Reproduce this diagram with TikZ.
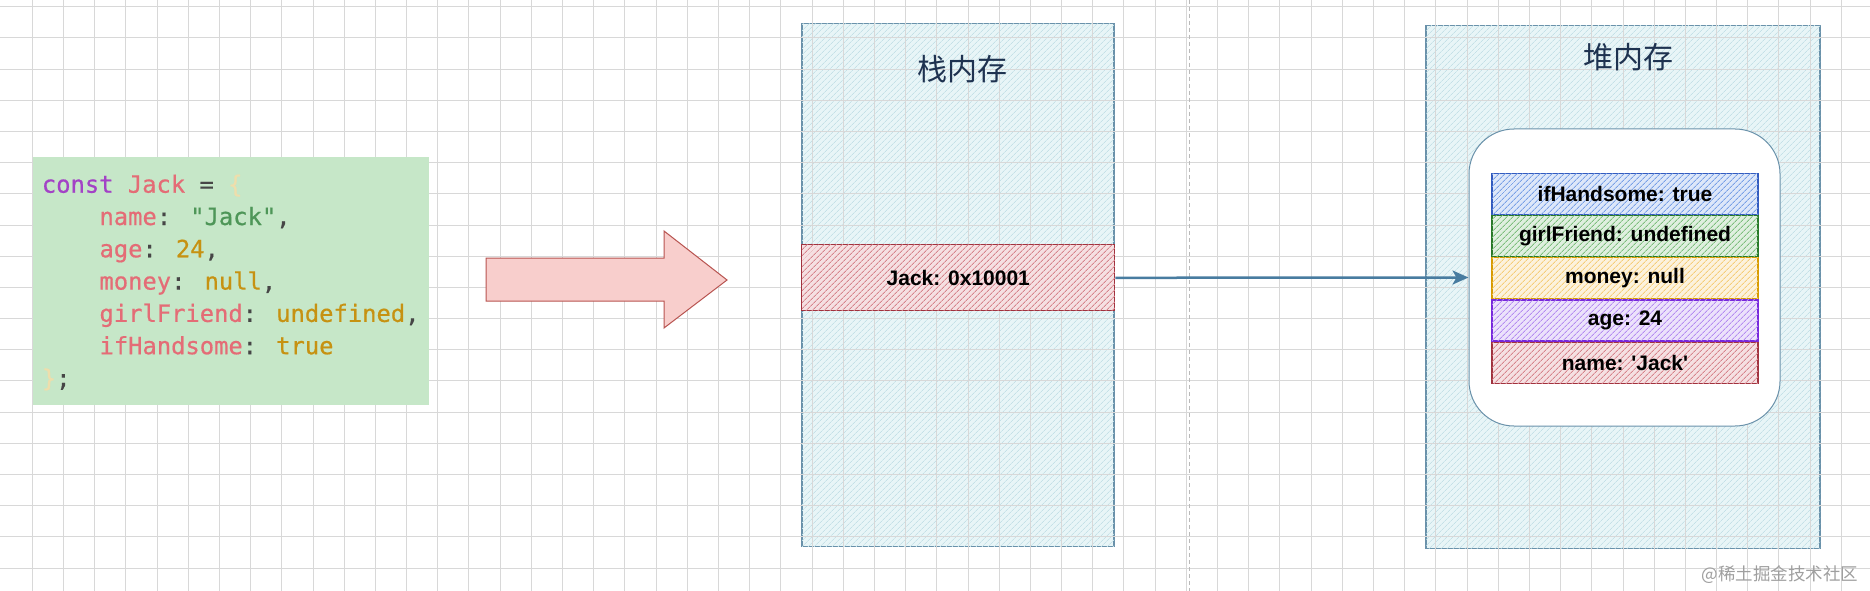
\documentclass[tikz,border=0pt]{standalone}
\usepackage{fontspec}
\newfontfamily\cjk{Noto Sans CJK SC}
\newfontfamily\labelfont{Liberation Sans}
\newfontfamily\codefont{DejaVu Sans Mono}[FakeBold=0.6]
\usetikzlibrary{positioning,patterns.meta,arrows.meta}

\definecolor{gridgray}{RGB}{216,216,216}
\definecolor{regionline}{RGB}{105,145,170}
\definecolor{regionfill}{RGB}{232,245,247}
\definecolor{regionhatch}{RGB}{196,224,231}
\definecolor{titleblue}{RGB}{30,50,80}
\definecolor{codebg}{RGB}{198,231,200}
\definecolor{codekw}{RGB}{163,66,198}
\definecolor{codekey}{RGB}{228,108,118}
\definecolor{codeval}{RGB}{198,146,18}
\definecolor{codestr}{RGB}{78,150,88}
\definecolor{codepun}{RGB}{70,70,70}
\definecolor{codebrace}{RGB}{238,222,172}
\definecolor{arrowfill}{RGB}{248,206,204}
\definecolor{arrowline}{RGB}{184,84,80}
\definecolor{linkblue}{RGB}{72,124,160}
\definecolor{redline}{RGB}{160,50,62}
\definecolor{redhatch}{RGB}{214,132,140}
\definecolor{blueline}{RGB}{50,90,190}
\definecolor{bluehatch}{RGB}{120,160,230}
\definecolor{greenline}{RGB}{40,120,40}
\definecolor{greenhatch}{RGB}{125,190,125}
\definecolor{yellowline}{RGB}{215,155,0}
\definecolor{yellowhatch}{RGB}{245,205,120}
\definecolor{purpleline}{RGB}{120,40,220}
\definecolor{purplehatch}{RGB}{180,140,240}

\newcommand{\cKey}[1]{\textcolor{codekey}{#1}}
\newcommand{\cVal}[1]{\textcolor{codeval}{#1}}
\newcommand{\cPun}[1]{\textcolor{codepun}{#1}}

\begin{document}
\begin{tikzpicture}[
    x=1pt, y=-1pt,
    region/.style={
        draw=regionline, line width=1.2pt,
        fill=regionfill,
        postaction={pattern={Lines[angle=45,distance=4pt,line width=0.7pt]}, pattern color=regionhatch}
    },
    regiontitle/.style={text=titleblue, font=\cjk\fontsize{30}{36}\selectfont},
    codeline/.style={anchor=base west, inner sep=0pt, font=\codefont\fontsize{23.8}{28}\selectfont},
    field/.style 2 args={
        draw=#1, line width=1.2pt,
        fill=#2!25,
        postaction={pattern={Lines[angle=45,distance=4pt,line width=1pt]}, pattern color=#2},
        minimum width=266pt, minimum height=41pt, inner sep=0pt,
        font=\labelfont\bfseries\fontsize{21}{25}\selectfont
    },
    link/.style={draw=linkblue, line width=2.5pt, -{Stealth[length=16pt,width=14pt,inset=4pt]}}
]
\useasboundingbox (0,0) rectangle (1870,591);
\fill[white] (0,0) rectangle (1870,591);

% memory regions, under the grid
\node[region, minimum width=312pt, minimum height=523pt] (stack) at (958,284.7) {};
\node[region, minimum width=394pt, minimum height=523pt] (heap) at (1623,287.3) {};

% canvas grid
\foreach \i in {0,...,58} {
    \draw[gridgray, line width=1pt] (32.3+31.19*\i,0) -- ++(0,591);
}
\foreach \j in {0,...,18} {
    \draw[gridgray, line width=1pt] (0,6.7+31.19*\j) -- ++(1870,0);
}
\draw[gray!55, line width=1pt, dash pattern=on 4pt off 3pt] (1189.3,0) -- (1189.3,591);

\node[regiontitle] (stacktitle) at (962,69) {栈内存};
\node[regiontitle] (heaptitle) at (1628,57) {堆内存};

% source code
\node[fill=codebg, minimum width=396pt, minimum height=248pt, inner sep=0pt] (codebox) at (231,281) {};
\node[codeline] (c1) at (41.7,192.7) {\textcolor{codekw}{const} \cKey{Jack} \cPun{=} \textcolor{codebrace}{\{}};
\node[codeline] (c2) at (99.3,225) {\cKey{name}\cPun{:} \textcolor{codestr}{"Jack"}\cPun{,}};
\node[codeline] (c3) at (99.3,257.3) {\cKey{age}\cPun{:} \cVal{24}\cPun{,}};
\node[codeline] (c4) at (99.3,289.6) {\cKey{money}\cPun{:} \cVal{null}\cPun{,}};
\node[codeline] (c5) at (99.3,321.9) {\cKey{girlFriend}\cPun{:} \cVal{undefined}\cPun{,}};
\node[codeline] (c6) at (99.3,354.2) {\cKey{ifHandsome}\cPun{:} \cVal{true}};
\node[codeline] (c7) at (41.7,386.5) {\textcolor{codebrace}{\}}\cPun{;}};

% big arrow
\draw[fill=arrowfill, draw=arrowline, line width=1pt]
    (486,258) -- (664,258) -- (664,231) -- (727,280) -- (664,328) -- (664,301) -- (486,301) -- cycle;

% stack entry
\node[field={redline}{redhatch}, minimum width=313pt, minimum height=66pt] (jack) at (958.3,277.8) {Jack: 0x10001};

% heap object
\node[draw=regionline, line width=1pt, fill=white, rounded corners=45pt,
      minimum width=311pt, minimum height=297pt] (heapobj) at (1624.5,277.5) {};
\node[field={blueline}{bluehatch}] (fHandsome) at (1625,193.8) {ifHandsome: true};
\node[field={greenline}{greenhatch}, below=0pt of fHandsome] (fFriend) {girlFriend: undefined};
\node[field={yellowline}{yellowhatch}, below=0pt of fFriend] (fMoney) {money: null};
\node[field={purpleline}{purplehatch}, below=0pt of fMoney] (fAge) {age: 24};
\node[field={redline}{redhatch}, below=0pt of fAge] (fName) {name: 'Jack'};

\draw[link] (jack.east) -- (heapobj.west);

\node[anchor=east, text=gray!75, font=\cjk\fontsize{17.5}{20}\selectfont] (mark) at (1862,575) {@稀土掘金技术社区};
\end{tikzpicture}
\end{document}
